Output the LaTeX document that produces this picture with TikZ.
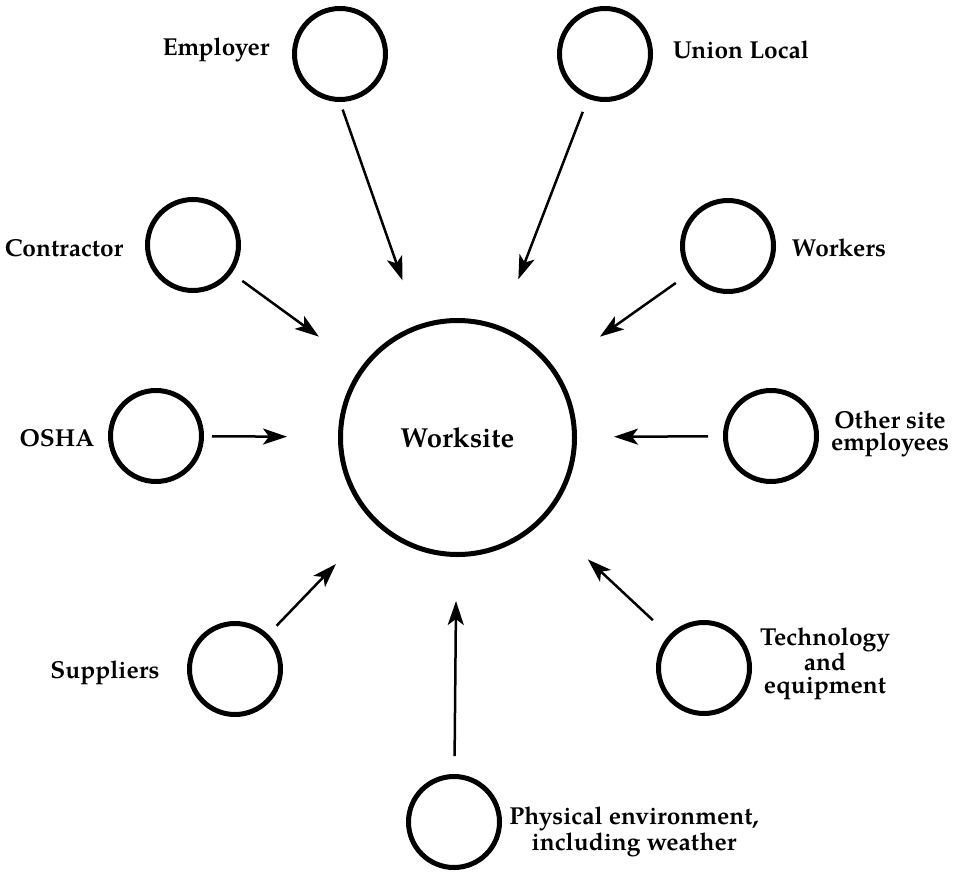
\documentclass[tikz,border=0pt]{standalone}
\usepackage{fontspec}
\setmainfont{TeX Gyre Pagella}
\usetikzlibrary{arrows.meta}
\tikzset{
  small/.style={circle, draw, line width=5pt, minimum size=91pt, inner sep=0pt},
  big/.style={circle, draw, line width=5pt, minimum size=234pt, inner sep=0pt, font=\fontsize{27.5}{22}\selectfont\bfseries},
  lbl/.style={font=\fontsize{24.5}{22.5}\selectfont\bfseries, align=center, inner sep=0pt},
  arr/.style={line width=2.5pt, -{Stealth[length=24pt, width=16pt, inset=6pt]}}
}
\begin{document}
\begin{tikzpicture}[x=1pt, y=-1pt]
\useasboundingbox (0,0) rectangle (963,872);
\node[big] (ws) at (457.5,437.5) {Worksite};
\node[small] (emp) at (340,54) {};
\node[small] (uni) at (605,54) {};
\node[small] (con) at (193,245) {};
\node[small] (wor) at (728,246) {};
\node[small] (osh) at (156,436) {};
\node[small] (oth) at (771,436) {};
\node[small] (sup) at (235,669) {};
\node[small] (tec) at (704,668) {};
\node[small] (phy) at (454,822) {};
\node[lbl] (lemp) at (216,50) {Employer};
\node[lbl] (luni) at (741,50) {Union Local};
\node[lbl] (lcon) at (64,248) {Contractor};
\node[lbl] (lwor) at (839,248) {Workers};
\node[lbl] (losh) at (57,438) {OSHA};
\node[lbl] (loth) at (890,434) {Other site\\employees};
\node[lbl] (lsup) at (105,673) {Suppliers};
\node[lbl] (ltec) at (825,664) {Technology\\and\\equipment};
\node[lbl] (lphy) at (634,832) {Physical environment,\\including weather};
\draw[arr, shorten <=8pt, shorten >=47pt] (emp.south) -- (ws);
\draw[arr, shorten <=14pt, shorten >=50pt] (uni) -- (ws);
\draw[arr, shorten <=13pt, shorten >=52pt] (con) -- (ws);
\draw[arr, shorten <=8pt, shorten >=51pt] (osh) -- (ws);
\draw[arr, shorten <=16pt, shorten >=55pt] (wor) -- (ws);
\draw[arr, shorten <=15pt, shorten >=37pt] (oth) -- (ws);
\draw[arr, shorten <=12pt, shorten >=56pt] (sup) -- (ws);
\draw[arr, shorten <=22pt, shorten >=59pt] (tec) -- (ws);
\draw[arr, shorten <=18pt, shorten >=44pt] (phy) -- (ws);
\end{tikzpicture}
\end{document}
